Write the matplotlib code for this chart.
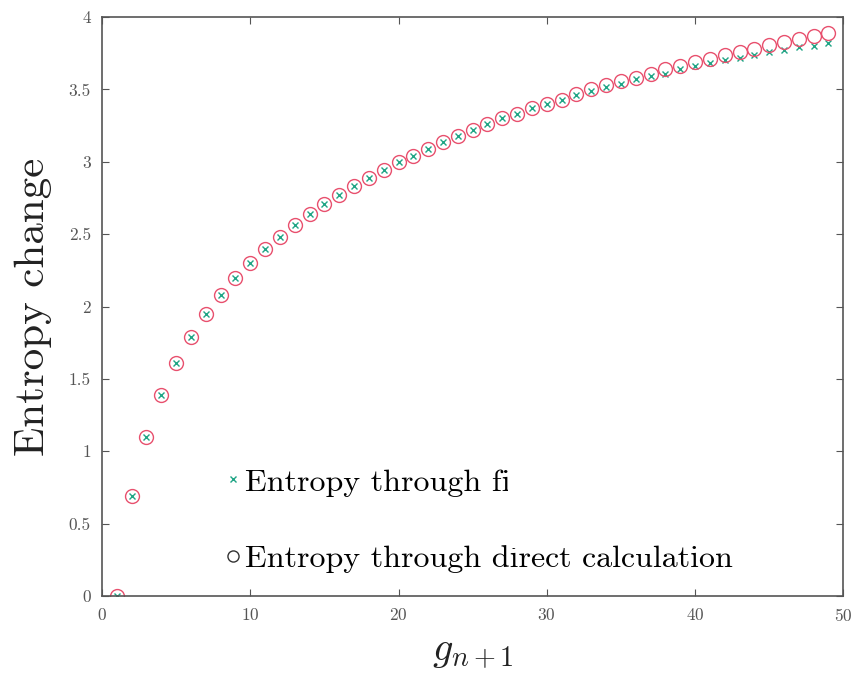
import matplotlib
matplotlib.use("Agg")
import matplotlib.pyplot as plt
from matplotlib.patches import Rectangle

plt.rcParams["font.family"] = "cmr10"
plt.rcParams["mathtext.fontset"] = "cm"
plt.rcParams["axes.formatter.use_mathtext"] = True

# g_{n+1} = 1..49
g = list(range(1, 50))

direct = [0.00, 0.69, 1.10, 1.39, 1.61, 1.79, 1.95, 2.08, 2.20, 2.30,
          2.40, 2.48, 2.56, 2.64, 2.71, 2.77, 2.83, 2.89, 2.94, 3.00,
          3.04, 3.09, 3.14, 3.18, 3.22, 3.26, 3.30, 3.33, 3.37, 3.40,
          3.43, 3.47, 3.50, 3.53, 3.56, 3.58, 3.61, 3.64, 3.66, 3.69,
          3.71, 3.74, 3.76, 3.78, 3.81, 3.83, 3.85, 3.87, 3.89]

fit = [0.00, 0.69, 1.10, 1.39, 1.61, 1.79, 1.95, 2.08, 2.20, 2.30,
       2.40, 2.48, 2.56, 2.64, 2.71, 2.77, 2.83, 2.89, 2.94, 3.00,
       3.04, 3.09, 3.14, 3.18, 3.22, 3.26, 3.30, 3.33, 3.37, 3.40,
       3.43, 3.46, 3.49, 3.52, 3.54, 3.57, 3.59, 3.61, 3.64, 3.66,
       3.68, 3.70, 3.72, 3.74, 3.76, 3.77, 3.79, 3.80, 3.82]

yticks = [0, 0.5, 1, 1.5, 2, 2.5, 3, 3.5, 4]
ytick_labels = ["0", "0.5", "1", "1.5", "2", "2.5", "3", "3.5", "4"]
xticks = [0, 10, 20, 30, 40, 50]

RED = "#e8506e"
GREEN = "#1fa585"
AX = "#555555"

fig = plt.figure(figsize=(8.57, 6.82), dpi=100)
ax = fig.add_axes([0.119, 0.126, 0.865, 0.849])

ax.plot(g, fit, linestyle="none", marker="x", color=GREEN, markersize=5,
        markeredgewidth=1.0, label="Entropy through fit")
ax.plot(g, direct, linestyle="none", marker="o", markerfacecolor="none",
        markeredgecolor=RED, markersize=10, markeredgewidth=1.0,
        label="Entropy through direct calculation")

ax.set_xlim(0, 50)
ax.set_ylim(0, 4)
ax.set_xticks(xticks)
ax.set_yticks(yticks)
ax.set_yticklabels(ytick_labels)
ax.tick_params(direction="in", top=True, right=True, length=5,
               colors=AX, labelsize=12.5, pad=8)
for s in ax.spines.values():
    s.set_color(AX)
    s.set_linewidth(1.2)

ax.set_xlabel(r"$g_{n+1}$", fontsize=29, color="#222222", labelpad=8)
ax.set_ylabel("Entropy change", fontsize=31, color="#222222", labelpad=12)

leg = ax.legend(loc="lower left", bbox_to_anchor=(0.15, 0.018), frameon=False,
                fontsize=23, handlelength=0.45, handletextpad=0.15,
                labelspacing=1.5, borderaxespad=0)
for h in leg.legend_handles:
    h.set_markeredgecolor("#333333")
leg.legend_handles[0].set_markeredgecolor(GREEN)
leg.legend_handles[0].set_markersize(4)
leg.legend_handles[1].set_markersize(8)

# white patch covering part of the first legend entry, as in the source image
fig.add_artist(Rectangle((0.593, 0.196), 0.075, 0.117, transform=fig.transFigure,
                         facecolor="white", edgecolor="none", zorder=10))

fig.savefig("out.png", dpi=100, facecolor="white")
